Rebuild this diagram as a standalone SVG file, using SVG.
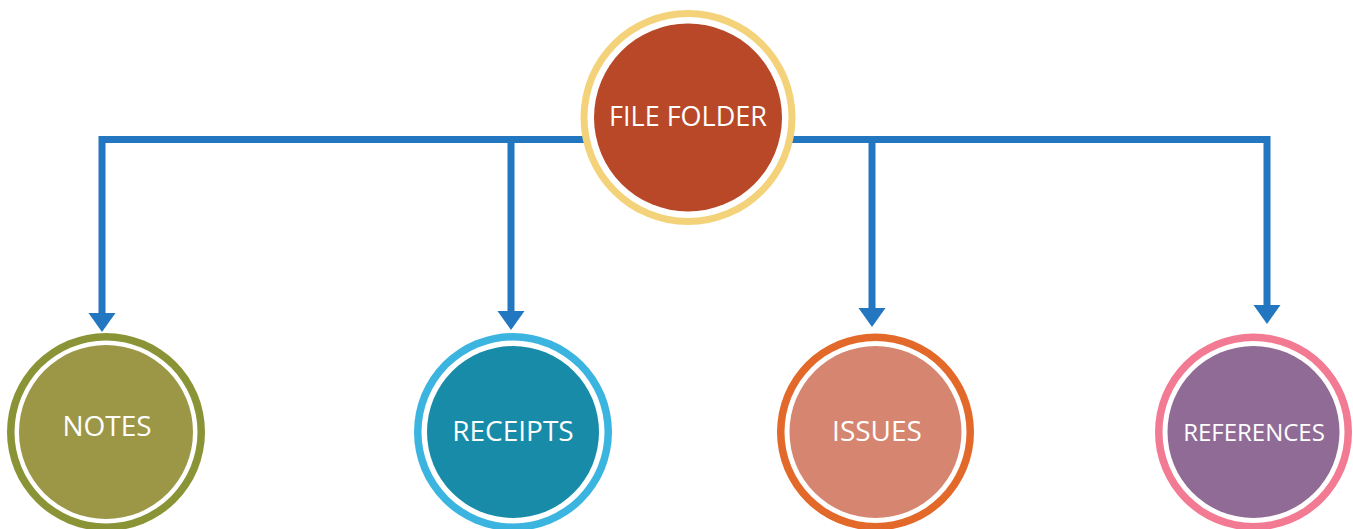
<svg xmlns="http://www.w3.org/2000/svg" width="1353" height="529" viewBox="0 0 1353 529">
<style>
.conn{fill:none;stroke:#2277C0;stroke-width:7}
.head{fill:#2277C0}
.gap{fill:#FFFFFF}
.lbl{font-family:"Open Sans","Liberation Sans",sans-serif;fill:#FFFFFF;text-anchor:middle;dominant-baseline:central}
</style>
<rect width="1353" height="529" fill="#FFFFFF"/>
<g id="connectors">
<polyline class="conn" points="102,314 102,139.5 1267,139.5 1267,306"/>
<line class="conn" x1="511" y1="139.5" x2="511" y2="312"/>
<line class="conn" x1="872" y1="139.5" x2="872" y2="309"/>
<polygon class="head" points="88.5,313 115.5,313 102,332"/>
<polygon class="head" points="497.5,311 524.5,311 511,330"/>
<polygon class="head" points="858.5,308 885.5,308 872,327"/>
<polygon class="head" points="1253.5,305 1280.5,305 1267,324"/>
</g>
<g id="file-folder">
<circle cx="688" cy="117.5" r="107.5" fill="#F4D27A"/>
<circle class="gap" cx="688" cy="117.5" r="100.5"/>
<circle cx="688" cy="117.5" r="94" fill="#B84827"/>
<text class="lbl" x="688" y="115" font-size="27">FILE FOLDER</text>
</g>
<g id="notes">
<circle cx="106" cy="432" r="99" fill="#8A9437"/>
<circle class="gap" cx="106" cy="432" r="91.5"/>
<circle cx="106" cy="432" r="87" fill="#9C9747"/>
<text class="lbl" x="107" y="425" font-size="28">NOTES</text>
</g>
<g id="receipts">
<circle cx="513" cy="432" r="99" fill="#3BB5E0"/>
<circle class="gap" cx="513" cy="432" r="91.5"/>
<circle cx="513" cy="432" r="86" fill="#178BA8"/>
<text class="lbl" x="513" y="430" font-size="28">RECEIPTS</text>
</g>
<g id="issues">
<circle cx="875.5" cy="432" r="98.5" fill="#E2692A"/>
<circle class="gap" cx="875.5" cy="432" r="91"/>
<circle cx="875.5" cy="432" r="86" fill="#D68670"/>
<text class="lbl" x="877" y="430" font-size="28">ISSUES</text>
</g>
<g id="references">
<circle cx="1253.5" cy="432" r="98.5" fill="#F27A92"/>
<circle class="gap" cx="1253.5" cy="432" r="91"/>
<circle cx="1253.5" cy="432" r="86" fill="#8F6B96"/>
<text class="lbl" x="1254" y="431" font-size="24">REFERENCES</text>
</g>
</svg>
